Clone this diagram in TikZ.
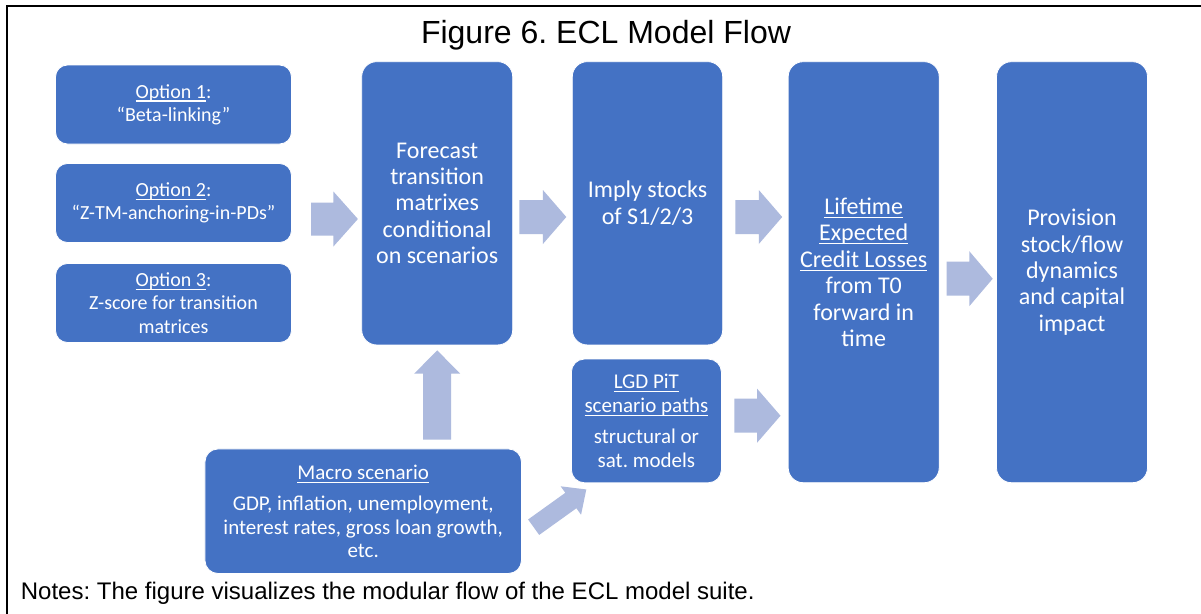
\documentclass[tikz,border=0pt]{standalone}
\usepackage{fontspec}
\setmainfont{Carlito}
\newfontfamily\arialfont{Liberation Sans}
\usetikzlibrary{calc}
\frenchspacing
\definecolor{boxblue}{HTML}{4472C4}
\definecolor{arrowtint}{HTML}{ADBADE}
\newcommand{\myul}[1]{\leavevmode\setbox0\hbox{#1}\rlap{\vrule width\wd0 height -2.4pt depth 3.6pt}\box0}
\tikzset{
  box/.style={fill=boxblue, draw=white, line width=0.8pt, text=white, align=center, inner sep=0pt},
  optbox/.style={box, minimum width=236pt, minimum height=79pt, rounded corners=12pt, font=\fontsize{20}{23.3}\selectfont},
  tallbox/.style={box, minimum width=151pt, rounded corners=15pt, font=\fontsize{24}{26.4}\selectfont},
  smallbox/.style={box, rounded corners=13pt, font=\fontsize{21}{23.3}\selectfont},
  blockarrowfill/.style={fill=arrowtint},
  frameline/.style={line width=2.2pt, line cap=rect},
}
% tail, tip, shaft half width, head half width, head length
\newcommand{\blockarrow}[5]{%
  \path ($(#2)!#5!(#1)$) coordinate (babase);
  \fill[blockarrowfill] ($(#1)!#3!90:(#2)$) -- ($(babase)!#3!90:(#2)$) -- ($(babase)!#4!90:(#2)$) -- (#2)
    -- ($(babase)!#4!-90:(#2)$) -- ($(babase)!#3!-90:(#2)$) -- ($(#1)!#3!-90:(#2)$) -- cycle;
}
\begin{document}
\begin{tikzpicture}[x=1pt,y=-1pt]
\useasboundingbox (0,0) rectangle (1201,613);
\fill[white] (0,0) rectangle (1201,613);
% frame
\coordinate (fbl) at (6.8,613);
\coordinate (ftl) at (6.8,5.7);
\coordinate (ftr) at (1201,5.7);
\draw[frameline] (fbl) -- (ftl) -- (ftr);
% title and notes
\node[font=\arialfont\fontsize{32}{38}\selectfont, anchor=base] (title) at (606,43) {Figure 6. ECL Model Flow};
\node[font=\arialfont\fontsize{24}{28}\selectfont, anchor=base west, inner sep=0pt] (notes) at (20.7,599) {Notes: The figure visualizes the modular flow of the ECL model suite.};
% boxes
\node[optbox] (opt1) at (173.5,104.5) {\myul{Option 1}:\\“Beta-linking”};
\node[optbox] (opt2) at (173.5,203) {\myul{Option 2}:\\“Z-TM-anchoring-in-PDs”};
\node[optbox] (opt3) at (173.5,303) {\myul{Option 3}:\\Z-score for transition\\matrices};
\node[tallbox, minimum height=283.3pt] (fore) at (437.2,203.3) {Forecast\\transition\\matrixes\\conditional\\on scenarios};
\node[tallbox, minimum width=150.4pt, minimum height=283.3pt] (impl) at (647.5,203.3) {Imply stocks\\of S1/2/3};
\node[smallbox, minimum width=150pt, minimum height=123.7pt] (lgd) at (646.4,420.9) {\myul{LGD PiT}\\\myul{scenario paths}\\[8.4pt]structural or\\sat. models};
\node[tallbox, minimum height=421pt] (life) at (863.7,272.2) {\myul{Lifetime}\\\myul{Expected}\\\myul{Credit Losses}\\from T0\\forward in\\time};
\node[tallbox, minimum height=421pt] (prov) at (1072,272.2) {Provision\\stock/flow\\dynamics\\and capital\\impact};
\node[smallbox, minimum width=316.5pt, minimum height=124.5pt] (macro) at (363.2,511.2) {\myul{Macro scenario}\\[8.4pt]GDP, inflation, unemployment,\\interest rates, gross loan growth,\\etc.};
% arrows
\coordinate (a1t) at ($(opt2.east)+(19.2,16)$);
\coordinate (a1h) at ($(fore.west |- a1t)+(-3.4,0)$);
\blockarrow{a1t}{a1h}{16.5pt}{27.5pt}{24.5pt}
\coordinate (a2t) at ($(fore.east)+(6.3,13.7)$);
\coordinate (a2h) at ($(impl.west |- a2t)+(-5.6,0)$);
\blockarrow{a2t}{a2h}{17pt}{27pt}{23.4pt}
\coordinate (a3t) at ($(impl.east)+(12.3,13.7)$);
\coordinate (a3h) at ($(life.west |- a3t)+(-5.6,0)$);
\blockarrow{a3t}{a3h}{17pt}{27pt}{23.4pt}
\coordinate (a4t) at ($(lgd.east)+(12.6,-5.2)$);
\coordinate (a4h) at ($(life.west |- a4t)+(-7.3,0)$);
\blockarrow{a4t}{a4h}{17pt}{27pt}{23.4pt}
\coordinate (a5t) at ($(life.east)+(7,6.5)$);
\coordinate (a5h) at ($(prov.west |- a5t)+(-3.4,0)$);
\blockarrow{a5t}{a5h}{17pt}{27.5pt}{23.4pt}
\coordinate (a6t) at ($(fore.south |- macro.north)+(0,-9)$);
\coordinate (a6h) at ($(fore.south)+(0,5)$);
\blockarrow{a6t}{a6h}{14pt}{23pt}{23.3pt}
\coordinate (a7t) at ($(macro.east)+(11.8,16)$);
\coordinate (a7h) at ($(lgd.south west)+(15.3,6.3)$);
\blockarrow{a7t}{a7h}{9.5pt}{17.5pt}{19pt}
\end{tikzpicture}
\end{document}
